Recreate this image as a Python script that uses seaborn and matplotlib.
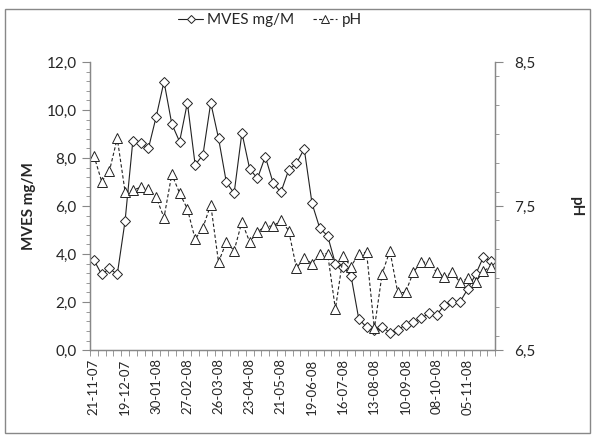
import numpy as np
import pandas as pd
import seaborn as sns
import matplotlib.pyplot as plt
from matplotlib.patches import Rectangle
from matplotlib.ticker import FixedLocator, MultipleLocator

# Weekly samples, 52 points (category axis, label every 4th sample)
tick_labels = ['21-11-07', '19-12-07', '30-01-08', '27-02-08', '26-03-08',
               '23-04-08', '21-05-08', '19-06-08', '16-07-08', '13-08-08',
               '10-09-08', '08-10-08', '05-11-08']

mves = [3.75, 3.15, 3.4, 3.15, 5.37, 8.71, 8.61, 8.4, 9.72, 11.18,
        9.42, 8.68, 10.3, 7.71, 8.13, 10.3, 8.82, 6.99, 6.53, 9.05,
        7.54, 7.15, 8.06, 6.97, 6.57, 7.5, 7.78, 8.38, 6.11, 5.07,
        4.76, 3.6, 3.47, 3.1, 1.3, 0.95, 0.85, 0.97, 0.72, 0.84,
        1.06, 1.18, 1.32, 1.53, 1.46, 1.88, 2.01, 2.01, 2.55, 3.15,
        3.88, 3.7]

ph = [7.85, 7.67, 7.745, 7.97, 7.6, 7.61, 7.63, 7.62, 7.56, 7.42,
      7.72, 7.59, 7.48, 7.27, 7.35, 7.51, 7.11, 7.25, 7.19, 7.39,
      7.25, 7.32, 7.36, 7.36, 7.40, 7.33, 7.07, 7.14, 7.10, 7.17,
      7.17, 6.785, 7.15, 7.08, 7.17, 7.18, 6.65, 7.03, 7.19, 6.90,
      6.90, 7.04, 7.11, 7.11, 7.04, 7.01, 7.04, 6.97, 7.00, 6.97,
      7.05, 7.08]

df = pd.DataFrame({'idx': np.arange(len(mves)), 'MVES': mves, 'pH': ph})

sns.set_style('white')
plt.rcParams['font.family'] = ['Lato', 'DejaVu Sans']

fig = plt.figure(figsize=(5.94, 4.36), dpi=100)
ax = fig.add_axes([0.1515, 0.197, 0.682, 0.661])
ax2 = ax.twinx()

sns.lineplot(data=df, x='idx', y='MVES', ax=ax, color='#222222', linewidth=0.8,
             marker='D', markersize=5.5, markerfacecolor='white',
             markeredgecolor='#222222', markeredgewidth=0.7, label='MVES mg/M', legend=False)
sns.lineplot(data=df, x='idx', y='pH', ax=ax2, color='#222222', linewidth=0.8,
             linestyle=(0, (3, 2)), marker='^', markersize=7, markerfacecolor='white',
             markeredgecolor='#222222', markeredgewidth=0.7, label='pH', legend=False)

n = len(mves)
ax.set_xlim(-0.5, n - 0.5)
ax.set_ylim(0, 12)
ax2.set_ylim(6.5, 8.5)

ax.set_xticks(np.arange(0, n, 4))
ax.set_xticklabels(tick_labels, rotation=90, fontsize=9.5)
ax.xaxis.set_minor_locator(FixedLocator(np.arange(-0.5, n, 1)))
ax.tick_params(axis='x', which='major', length=0, pad=6)
ax.tick_params(axis='x', which='minor', length=4, color='#888888', direction='out', bottom=True)

ax.set_yticks(np.arange(0, 12.1, 2))
ax.set_yticklabels([f'{v:.1f}'.replace('.', ',') for v in np.arange(0, 12.1, 2)], fontsize=11)
ax.yaxis.set_minor_locator(MultipleLocator(0.4))
ax.tick_params(axis='y', which='major', length=6, color='#888888', direction='out', left=True)
ax.tick_params(axis='y', which='minor', length=3, color='#888888', direction='out', left=True)

ax2.set_yticks([6.5, 7.5, 8.5])
ax2.set_yticklabels(['6,5', '7,5', '8,5'], fontsize=11)
ax2.yaxis.set_minor_locator(MultipleLocator(0.2))
ax2.tick_params(axis='y', which='major', length=6, color='#888888', direction='out', right=True, pad=8)
ax2.tick_params(axis='y', which='minor', length=3, color='#888888', direction='out', right=True)

ax.set_xlabel('')
ax.set_ylabel('MVES mg/M', fontsize=11, fontweight='bold', labelpad=8)
ax2.set_ylabel('pH', fontsize=11, fontweight='bold', rotation=270, va='center', ha='center')
ax2.yaxis.set_label_coords(1.2, 0.5)

for a in (ax, ax2):
    a.spines['top'].set_visible(False)
    for s in ('left', 'right', 'bottom'):
        a.spines[s].set_color('#888888')
        a.spines[s].set_linewidth(0.9)

h1, l1 = ax.get_legend_handles_labels()
h2, l2 = ax2.get_legend_handles_labels()
fig.legend(h1 + h2, l1 + l2, loc='center', bbox_to_anchor=(0.455, 0.953), ncol=2,
           frameon=False, fontsize=11, handlelength=1.6, handletextpad=0.3,
           columnspacing=1.2, markerscale=0.8)

fig.patches.append(Rectangle((0.008, 0.006), 0.986, 0.974, transform=fig.transFigure,
                             fill=False, edgecolor='#888888', linewidth=1.0))

fig.savefig('out.png', dpi=100)
